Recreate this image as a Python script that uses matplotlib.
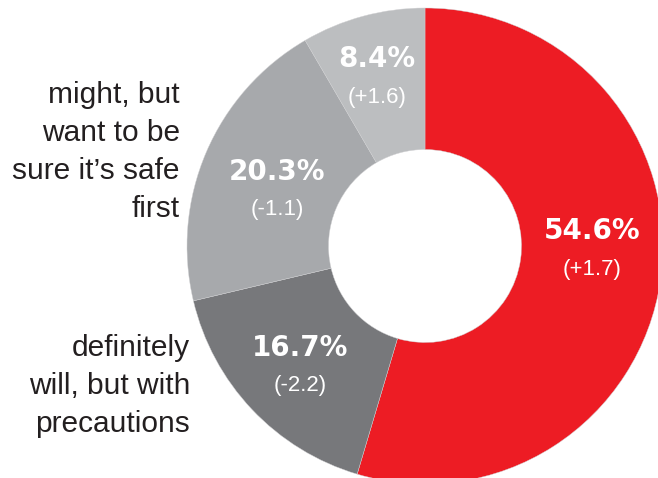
import matplotlib
matplotlib.use("Agg")
import matplotlib.pyplot as plt

# data
shares = [54.6, 16.7, 20.3, 8.4]
changes = ["(+1.7)", "(-2.2)", "(-1.1)", "(+1.6)"]
colors = ["#ED1C24", "#77787B", "#A7A9AC", "#BCBEC0"]
side_labels = ["definitely\nwill, but with\nprecautions", "might, but\nwant to be\nsure it\u2019s safe\nfirst"]

# layout (pixels in a 658x478 canvas, origin top-left)
W, H = 658, 478
cx, cy, R = 425, 246, 238
hole = 96.5
value_pos = [(592, 231), (300, 348), (277, 172), (377, 59)]
side_pos = [(190, 386), (180, 152)]

plt.rcParams['font.family'] = ['Liberation Sans', 'DejaVu Sans']

fig = plt.figure(figsize=(W / 100, H / 100), dpi=100)
ax = fig.add_axes([(cx - R) / W, (H - cy - R) / H, 2 * R / W, 2 * R / H])
ax.pie(shares, colors=colors, startangle=90, counterclock=False, radius=1,
       wedgeprops=dict(width=1 - hole / R, edgecolor="#d0d0d2", linewidth=0.3))
ax.set_xlim(-1, 1)
ax.set_ylim(-1, 1)
ax.set_aspect("equal")
ax.axis("off")

for (px, py), s, c in zip(value_pos, shares, changes):
    fig.text(px / W, 1 - py / H, f"{s}%", ha="center", va="center",
             fontsize=20, fontweight="bold", color="white", family="DejaVu Sans")
    fig.text(px / W, 1 - (py + 38) / H, c, ha="center", va="center",
             fontsize=16, color="white")

for (px, py), lab in zip(side_pos, side_labels):
    fig.text(px / W, 1 - py / H, lab, ha="right", va="center",
             fontsize=21.5, color="#231F20", linespacing=1.45)

fig.savefig("out.png", dpi=100)
